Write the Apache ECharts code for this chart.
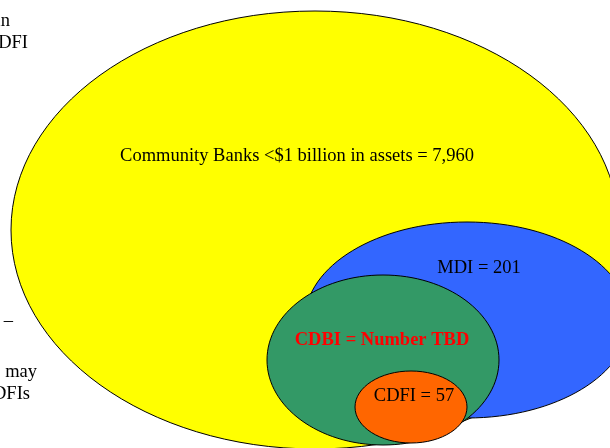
<!DOCTYPE html>
<html>
<head>
<meta charset="utf-8">
<script src="https://cdn.jsdelivr.net/npm/echarts@6/dist/echarts.min.js"></script>
<style>html,body{margin:0;padding:0;background:#fff}#c{width:610px;height:448px}</style>
</head>
<body>
<div id="c"></div>
<script>
// Sets (ellipses) of the diagram
const setNames = ['Community Banks', 'MDI', 'CDBI', 'CDFI'];
const setCounts = ['7,960', '201', 'TBD', '57'];
const setCx = [315, 467, 383, 411];
const setCy = [230, 320, 360, 407];
const setRx = [304, 162, 116, 56];
const setRy = [219, 98, 85, 36];
const setColors = ['#FFFF00', '#3366FF', '#339966', '#FF6600'];

// Set labels
const labelTexts = ['Community Banks <$1 billion in assets = 7,960', 'MDI = 201', 'CDBI = Number TBD', 'CDFI = 57'];
const labelX = [297, 479, 382, 414];
const labelY = [156, 268, 340, 396];
const labelColors = ['#000000', '#000000', '#FF0000', '#000000'];
const labelBold = [false, false, true, false];

// Clipped side notes at the left edge
const noteTexts = ['in', 'CDFI', '–', 'may', 'CDFIs'];
const noteRightX = [10, 28, 13, 37, 30];
const noteY = [21, 43, 321, 372, 394];

const chart = echarts.init(document.getElementById('c'), null, {renderer: 'canvas'});
const FONT = '"Liberation Serif", "Times New Roman", serif';

chart.setOption({
  animation: false,
  grid: {left: 0, right: 0, top: 0, bottom: 0},
  xAxis: {type: 'value', min: 0, max: 610, show: false},
  yAxis: {type: 'value', min: 0, max: 448, inverse: true, show: false},
  series: [
    {
      type: 'custom',
      clip: false,
      data: setNames.map((n, i) => [setCx[i], setCy[i], setRx[i], setRy[i], i]),
      renderItem: function (params, api) {
        const i = api.value(4);
        const c = api.coord([api.value(0), api.value(1)]);
        const s = api.size([api.value(2), api.value(3)]);
        return {
          type: 'ellipse',
          shape: {cx: c[0], cy: c[1], rx: s[0], ry: s[1]},
          style: {fill: setColors[i], stroke: '#000', lineWidth: 1}
        };
      }
    },
    {
      type: 'custom',
      clip: false,
      data: labelTexts.map((t, i) => [labelX[i], labelY[i], i]),
      renderItem: function (params, api) {
        const i = api.value(2);
        const c = api.coord([api.value(0), api.value(1)]);
        return {
          type: 'text',
          x: c[0], y: c[1],
          style: {
            text: labelTexts[i],
            fill: labelColors[i],
            font: (labelBold[i] ? 'bold ' : '') + '18.5px ' + FONT,
            align: 'center', verticalAlign: 'middle'
          }
        };
      }
    },
    {
      type: 'custom',
      clip: false,
      data: noteTexts.map((t, i) => [noteRightX[i], noteY[i], i]),
      renderItem: function (params, api) {
        const i = api.value(2);
        const c = api.coord([api.value(0), api.value(1)]);
        return {
          type: 'text',
          x: c[0], y: c[1],
          style: {
            text: noteTexts[i], fill: '#000',
            font: '18.5px ' + FONT,
            align: 'right', verticalAlign: 'middle'
          }
        };
      }
    }
  ]
});
</script>
</body>
</html>
